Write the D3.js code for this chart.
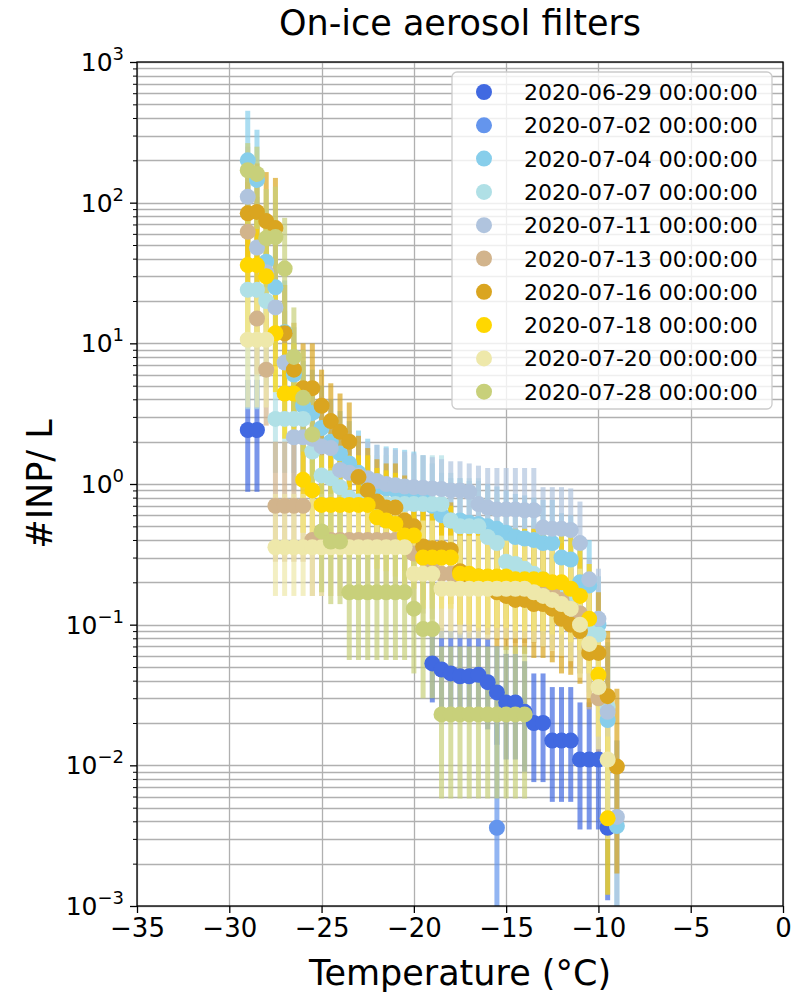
<!DOCTYPE html>
<html>
<head>
<meta charset="utf-8">
<script src="https://cdn.jsdelivr.net/npm/d3@7"></script>
<style>
  body { margin: 0; background: #fff; }
  text { font-family: "DejaVu Sans", sans-serif; }
</style>
</head>
<body>
<div class="chart"></div>
<script>
"use strict";

// legend labels and colours
const dates = [
  "2020-06-29 00:00:00", "2020-07-02 00:00:00", "2020-07-04 00:00:00",
  "2020-07-07 00:00:00", "2020-07-11 00:00:00", "2020-07-13 00:00:00",
  "2020-07-16 00:00:00", "2020-07-18 00:00:00", "2020-07-20 00:00:00",
  "2020-07-28 00:00:00"
];
const colors = [
  "#4169e1", "#6495ed", "#87ceeb", "#b0e0e6", "#b0c4de",
  "#d2b48c", "#daa520", "#ffd700", "#eee8aa", "#c8d07a"
];

// [temperature, INP per L, lower, upper]
const s0629 = [
  [-29, 2.42, 0.88, 5.5], [-28.5, 2.42, 0.88, 5.5],
  [-19, 0.053, 0.028, 0.1], [-18.5, 0.048, 0.024, 0.095], [-18, 0.045, 0.022, 0.09],
  [-17.5, 0.043, 0.021, 0.088], [-17, 0.043, 0.021, 0.088], [-16.5, 0.044, 0.021, 0.09],
  [-16, 0.039, 0.018, 0.08], [-15.5, 0.033, 0.014, 0.07], [-15, 0.028, 0.011, 0.062],
  [-14.5, 0.028, 0.011, 0.062], [-14, 0.024, 0.009, 0.055], [-13.5, 0.02, 0.0076, 0.045],
  [-13, 0.02, 0.0076, 0.045], [-12.5, 0.015, 0.0055, 0.036], [-12, 0.015, 0.0055, 0.036],
  [-11.5, 0.015, 0.0055, 0.036], [-11, 0.011, 0.0035, 0.028], [-10.5, 0.011, 0.0035, 0.028],
  [-10, 0.011, 0.0035, 0.028], [-9.5, 0.0036, 0.0011, 0.012]
];
const s0702 = [
  [-15.5, 0.0036, 0.0008, 0.02]
];
const s0704 = [
  [-29, 200, 80, 450], [-28.5, 145, 55, 330], [-28, 38, 14, 90], [-27.5, 25, 9, 60],
  [-27, 12, 5, 28], [-26.5, 6, 2.5, 13], [-26, 3.6, 1.6, 7.5], [-25.5, 3.2, 1.4, 6.5],
  [-25, 2.5, 1.1, 5], [-24.5, 2.0, 0.9, 4], [-24, 1.65, 0.75, 3.3], [-23.5, 1.4, 0.65, 2.8],
  [-23, 1.2, 0.55, 2.4], [-22.5, 1.05, 0.5, 2.1], [-22, 0.95, 0.45, 1.9], [-21.5, 0.93, 0.44, 1.85],
  [-21, 0.9, 0.43, 1.8], [-20.5, 0.88, 0.42, 1.75], [-20, 0.85, 0.4, 1.7], [-19.5, 0.8, 0.38, 1.6],
  [-19, 0.7, 0.33, 1.4], [-18.5, 0.6, 0.28, 1.2], [-18, 0.55, 0.26, 1.1], [-17.5, 0.55, 0.26, 1.1],
  [-17, 0.53, 0.25, 1.05], [-16.5, 0.52, 0.24, 1.05], [-16, 0.5, 0.23, 1.0], [-15.5, 0.48, 0.22, 0.96],
  [-15, 0.45, 0.21, 0.9], [-14.5, 0.42, 0.19, 0.85], [-14, 0.41, 0.19, 0.83], [-13.5, 0.4, 0.18, 0.8],
  [-13, 0.38, 0.17, 0.77], [-12.5, 0.38, 0.17, 0.77], [-12, 0.3, 0.13, 0.62], [-11.5, 0.29, 0.13, 0.6],
  [-11, 0.2, 0.08, 0.42], [-10.5, 0.19, 0.08, 0.4], [-10, 0.1, 0.04, 0.22], [-9.5, 0.021, 0.006, 0.06],
  [-9, 0.0037, 0.0007, 0.015]
];
const s0707 = [
  [-29, 24, 3.4, 55], [-28.5, 24, 3.4, 55], [-28, 20, 5, 45], [-27.5, 2.9, 1.2, 6.5],
  [-27, 2.9, 1.2, 6.5], [-26.5, 2.9, 1.2, 6.5], [-26, 2.9, 1.2, 6.5], [-25.5, 1.7, 0.7, 3.8],
  [-25, 1.15, 0.48, 2.6], [-24.5, 1.1, 0.46, 2.5], [-24, 0.95, 0.4, 2.1], [-23.5, 0.8, 0.34, 1.8],
  [-23, 0.75, 0.32, 1.7], [-22.5, 0.72, 0.3, 1.6], [-22, 0.72, 0.3, 1.6], [-21.5, 0.72, 0.3, 1.6],
  [-21, 0.72, 0.3, 1.6], [-20.5, 0.72, 0.3, 1.6], [-20, 0.72, 0.3, 1.6], [-19.5, 0.72, 0.3, 1.6],
  [-19, 0.72, 0.3, 1.6], [-18.5, 0.72, 0.3, 1.6], [-18, 0.55, 0.23, 1.2], [-17.5, 0.5, 0.21, 1.1],
  [-17, 0.5, 0.21, 1.1], [-16.5, 0.5, 0.21, 1.1], [-16, 0.42, 0.17, 0.95], [-15.5, 0.38, 0.15, 0.85],
  [-15, 0.28, 0.11, 0.65], [-14.5, 0.27, 0.11, 0.62], [-14, 0.25, 0.1, 0.58], [-13.5, 0.23, 0.09, 0.54],
  [-13, 0.21, 0.085, 0.5], [-12.5, 0.19, 0.075, 0.45], [-12, 0.16, 0.065, 0.38], [-11.5, 0.15, 0.06, 0.36],
  [-11, 0.12, 0.045, 0.3], [-10.5, 0.09, 0.033, 0.23], [-10, 0.085, 0.03, 0.22], [-9.5, 0.026, 0.008, 0.075]
];
const s0711 = [
  [-29, 110, 45, 250], [-28.5, 48, 20, 110], [-28, 32, 13, 75], [-27.5, 18, 7, 42],
  [-27, 7.3, 3, 17], [-26.5, 2.15, 0.9, 5], [-26, 2.15, 0.9, 5], [-25.5, 2.1, 0.9, 4.8],
  [-25, 1.85, 0.8, 4.2], [-24.5, 1.8, 0.8, 4.0], [-24, 1.26, 0.6, 2.6], [-23.5, 1.2, 0.57, 2.4],
  [-23, 1.15, 0.55, 2.2], [-22.5, 1.1, 0.52, 2.0], [-22, 1.05, 0.5, 1.9], [-21.5, 1.0, 0.48, 1.8],
  [-21, 0.98, 0.47, 1.75], [-20.5, 0.96, 0.46, 1.7], [-20, 0.95, 0.45, 1.65], [-19.5, 0.94, 0.45, 1.6],
  [-19, 0.93, 0.44, 1.55], [-18.5, 0.92, 0.44, 1.5], [-18, 0.9, 0.43, 1.45], [-17.5, 0.9, 0.43, 1.45],
  [-17, 0.88, 0.42, 1.4], [-16.5, 0.72, 0.34, 1.35], [-16, 0.68, 0.32, 1.3], [-15.5, 0.66, 0.31, 1.3],
  [-15, 0.66, 0.31, 1.3], [-14.5, 0.66, 0.31, 1.3], [-14, 0.65, 0.3, 1.3], [-13.5, 0.65, 0.3, 1.3],
  [-13, 0.49, 0.22, 0.95], [-12.5, 0.48, 0.22, 0.95], [-12, 0.48, 0.22, 0.95], [-11.5, 0.47, 0.21, 0.93],
  [-11, 0.38, 0.16, 0.75], [-10.5, 0.21, 0.09, 0.29], [-10, 0.11, 0.04, 0.25], [-9.5, 0.024, 0.007, 0.07],
  [-9, 0.0043, 0.001, 0.015]
];
const s0713 = [
  [-29, 62, 25, 140], [-28.5, 15, 6, 34], [-28, 6.5, 2.6, 15], [-27.5, 0.7, 0.28, 2.0],
  [-27, 0.7, 0.28, 2.0], [-26.5, 0.7, 0.28, 2.0], [-26, 0.7, 0.28, 2.0], [-25.5, 0.4, 0.16, 1.0],
  [-25, 0.4, 0.16, 1.0], [-24.5, 0.4, 0.16, 1.0], [-24, 0.4, 0.16, 1.0], [-23.5, 0.4, 0.16, 1.0],
  [-23, 0.4, 0.16, 1.0], [-22.5, 0.4, 0.16, 1.0], [-22, 0.4, 0.16, 1.0], [-21.5, 0.4, 0.16, 1.0],
  [-21, 0.4, 0.16, 1.0], [-20.5, 0.38, 0.15, 0.95], [-20, 0.32, 0.13, 0.8], [-19.5, 0.3, 0.12, 0.75],
  [-19, 0.28, 0.11, 0.7], [-18.5, 0.23, 0.09, 0.58], [-18, 0.23, 0.09, 0.58], [-17.5, 0.22, 0.085, 0.55],
  [-17, 0.21, 0.08, 0.52], [-16.5, 0.21, 0.08, 0.52], [-16, 0.2, 0.078, 0.5], [-15.5, 0.2, 0.078, 0.5],
  [-15, 0.2, 0.078, 0.5], [-14.5, 0.19, 0.074, 0.48], [-14, 0.19, 0.074, 0.48], [-13.5, 0.19, 0.074, 0.48],
  [-13, 0.18, 0.07, 0.45], [-12.5, 0.17, 0.066, 0.43], [-12, 0.15, 0.058, 0.38], [-11.5, 0.13, 0.05, 0.33],
  [-11, 0.12, 0.045, 0.3], [-10.5, 0.07, 0.025, 0.18], [-10, 0.03, 0.01, 0.08]
];
const s0716 = [
  [-29, 84, 35, 190], [-28.5, 86, 35, 190], [-28, 74, 30, 165], [-27.5, 66, 27, 150],
  [-27, 11.8, 5, 26], [-26.5, 6.5, 2.8, 14], [-26, 4.8, 2.1, 10], [-25.5, 4.8, 2.1, 10],
  [-25, 3.6, 1.6, 6.5], [-24.5, 2.8, 1.3, 5.2], [-24, 2.35, 1.1, 4.4], [-23.5, 2.0, 0.95, 3.8],
  [-23, 1.12, 0.5, 2.2], [-22.5, 0.9, 0.4, 1.8], [-22, 0.75, 0.33, 1.5], [-21.5, 0.68, 0.3, 1.4],
  [-21, 0.68, 0.3, 1.4], [-20.5, 0.55, 0.24, 1.15], [-20, 0.5, 0.22, 1.05], [-19.5, 0.36, 0.15, 0.78],
  [-19, 0.35, 0.15, 0.76], [-18.5, 0.35, 0.15, 0.76], [-18, 0.34, 0.14, 0.74], [-17.5, 0.24, 0.1, 0.54],
  [-17, 0.22, 0.09, 0.5], [-16.5, 0.22, 0.09, 0.5], [-16, 0.2, 0.085, 0.46], [-15.5, 0.17, 0.07, 0.4],
  [-15, 0.16, 0.066, 0.38], [-14.5, 0.15, 0.062, 0.36], [-14, 0.15, 0.062, 0.36], [-13.5, 0.14, 0.058, 0.34],
  [-13, 0.14, 0.058, 0.34], [-12.5, 0.13, 0.054, 0.32], [-12, 0.11, 0.045, 0.27], [-11.5, 0.1, 0.044, 0.25],
  [-11, 0.09, 0.038, 0.23], [-10.5, 0.063, 0.026, 0.17], [-10, 0.063, 0.026, 0.17], [-9.5, 0.031, 0.011, 0.09],
  [-9, 0.0098, 0.0017, 0.035]
];
const s0718 = [
  [-29, 36, 12, 80], [-28.5, 36, 12, 80], [-28, 30, 10, 68], [-27.5, 11.8, 4.5, 27],
  [-27, 4.4, 2.1, 10], [-26.5, 4.4, 2.1, 10], [-26, 1.07, 0.45, 2.4], [-25.5, 0.9, 0.38, 2.0],
  [-25, 0.71, 0.3, 1.6], [-24.5, 0.71, 0.3, 1.6], [-24, 0.71, 0.3, 1.6], [-23.5, 0.71, 0.3, 1.6],
  [-23, 0.71, 0.3, 1.6], [-22.5, 0.71, 0.3, 1.6], [-22, 0.58, 0.25, 1.3], [-21.5, 0.55, 0.24, 1.25],
  [-21, 0.52, 0.22, 1.2], [-20.5, 0.43, 0.18, 1.0], [-20, 0.43, 0.18, 1.0], [-19.5, 0.3, 0.13, 0.7],
  [-19, 0.3, 0.13, 0.7], [-18.5, 0.3, 0.13, 0.7], [-18, 0.3, 0.13, 0.7], [-17.5, 0.23, 0.1, 0.52],
  [-17, 0.23, 0.1, 0.52], [-16.5, 0.22, 0.095, 0.5], [-16, 0.22, 0.095, 0.5], [-15.5, 0.22, 0.095, 0.5],
  [-15, 0.22, 0.095, 0.5], [-14.5, 0.21, 0.09, 0.48], [-14, 0.21, 0.09, 0.48], [-13.5, 0.21, 0.09, 0.48],
  [-13, 0.21, 0.09, 0.48], [-12.5, 0.2, 0.085, 0.46], [-12, 0.2, 0.085, 0.46], [-11.5, 0.18, 0.075, 0.42],
  [-11, 0.16, 0.066, 0.38], [-10.5, 0.11, 0.045, 0.27], [-10, 0.044, 0.016, 0.12], [-9.5, 0.0042, 0.0012, 0.016]
];
const s0720 = [
  [-29, 10.6, 3.5, 25], [-28.5, 10.6, 3.5, 25], [-28, 10.6, 3.5, 25], [-27.5, 0.355, 0.16, 0.85],
  [-27, 0.355, 0.16, 0.85], [-26.5, 0.355, 0.16, 0.85], [-26, 0.355, 0.16, 0.85], [-25.5, 0.355, 0.16, 0.85],
  [-25, 0.355, 0.16, 0.85], [-24.5, 0.355, 0.16, 0.85], [-24, 0.355, 0.16, 0.85], [-23.5, 0.355, 0.16, 0.85],
  [-23, 0.355, 0.16, 0.85], [-22.5, 0.355, 0.16, 0.85], [-22, 0.355, 0.16, 0.85], [-21.5, 0.355, 0.16, 0.85],
  [-21, 0.355, 0.16, 0.85], [-20.5, 0.355, 0.16, 0.85], [-20, 0.23, 0.1, 0.55], [-19.5, 0.23, 0.1, 0.55],
  [-19, 0.23, 0.1, 0.55], [-18.5, 0.18, 0.08, 0.43], [-18, 0.18, 0.08, 0.43], [-17.5, 0.18, 0.08, 0.43],
  [-17, 0.18, 0.08, 0.43], [-16.5, 0.18, 0.08, 0.43], [-16, 0.18, 0.08, 0.43], [-15.5, 0.18, 0.08, 0.43],
  [-15, 0.18, 0.08, 0.43], [-14.5, 0.18, 0.08, 0.43], [-14, 0.18, 0.08, 0.43], [-13.5, 0.17, 0.075, 0.41],
  [-13, 0.16, 0.07, 0.39], [-12.5, 0.15, 0.065, 0.37], [-12, 0.14, 0.06, 0.34], [-11.5, 0.13, 0.055, 0.32],
  [-11, 0.1, 0.042, 0.25], [-10.5, 0.073, 0.03, 0.19], [-10, 0.036, 0.013, 0.1], [-9.5, 0.011, 0.003, 0.035]
];
const s0728 = [
  [-29, 170, 70, 265], [-28.5, 160, 65, 250], [-28, 56, 22, 125], [-27.5, 57, 22, 130],
  [-27, 34, 13, 78], [-26.5, 8, 3.2, 18], [-26, 4.1, 1.7, 9], [-25.5, 2.25, 0.95, 5],
  [-25, 0.46, 0.17, 1.2], [-24.5, 0.39, 0.14, 1.0], [-24, 0.39, 0.14, 1.0], [-23.5, 0.17, 0.056, 0.45],
  [-23, 0.17, 0.056, 0.45], [-22.5, 0.17, 0.056, 0.45], [-22, 0.17, 0.056, 0.45], [-21.5, 0.17, 0.056, 0.45],
  [-21, 0.17, 0.056, 0.45], [-20.5, 0.17, 0.056, 0.45], [-20, 0.13, 0.045, 0.35], [-19.5, 0.093, 0.03, 0.25],
  [-19, 0.093, 0.03, 0.25], [-18.5, 0.023, 0.0058, 0.07], [-18, 0.023, 0.0058, 0.07], [-17.5, 0.023, 0.0058, 0.07],
  [-17, 0.023, 0.0058, 0.07], [-16.5, 0.023, 0.0058, 0.07], [-16, 0.023, 0.0058, 0.07], [-15.5, 0.023, 0.0058, 0.07],
  [-15, 0.023, 0.0058, 0.07], [-14.5, 0.023, 0.0058, 0.07], [-14, 0.023, 0.0058, 0.07]
];

const series = [s0629, s0702, s0704, s0707, s0711, s0713, s0716, s0718, s0720, s0728];

const xTicks = [-35, -30, -25, -20, -15, -10, -5, 0];
const yExps = [-3, -2, -1, 0, 1, 2, 3];

const W = 795, H = 995;
const margin = { top: 62, right: 12, bottom: 89, left: 137 };
const plotW = W - margin.left - margin.right;
const plotH = H - margin.top - margin.bottom;

const svg = d3.select(".chart").append("svg")
  .attr("width", W).attr("height", H);

const x = d3.scaleLinear().domain([-35, 0]).range([margin.left, margin.left + plotW]);
const y = d3.scaleLog().domain([1e-3, 1e3]).range([margin.top + plotH, margin.top]);

svg.append("clipPath").attr("id", "plot-clip")
  .append("rect")
  .attr("x", margin.left).attr("y", margin.top)
  .attr("width", plotW).attr("height", plotH);

// grid: major + minor on y, major on x
const grid = svg.append("g").attr("stroke", "#b0b0b0").attr("stroke-width", 1.3);
grid.selectAll("line.gy")
  .data(y.ticks())
  .join("line")
  .attr("class", "gy")
  .attr("x1", margin.left).attr("x2", margin.left + plotW)
  .attr("y1", (d) => Math.round(y(d)) + 0.5).attr("y2", (d) => Math.round(y(d)) + 0.5);
grid.selectAll("line.gx")
  .data(xTicks)
  .join("line")
  .attr("class", "gx")
  .attr("y1", margin.top).attr("y2", margin.top + plotH)
  .attr("x1", (d) => Math.round(x(d)) + 0.5).attr("x2", (d) => Math.round(x(d)) + 0.5);

// error bars first, then markers on top
const plot = svg.append("g").attr("clip-path", "url(#plot-clip)");

series.forEach((s, i) => {
  plot.append("g")
    .attr("stroke", colors[i])
    .attr("stroke-width", 5)
    .attr("stroke-opacity", 0.7)
    .selectAll("line")
    .data(s)
    .join("line")
    .attr("x1", (d) => x(d[0])).attr("x2", (d) => x(d[0]))
    .attr("y1", (d) => y(Math.max(d[2], 1e-4))).attr("y2", (d) => y(d[3]));
});

series.forEach((s, i) => {
  plot.append("g")
    .attr("fill", colors[i])
    .selectAll("circle")
    .data(s)
    .join("circle")
    .attr("cx", (d) => x(d[0]))
    .attr("cy", (d) => y(d[1]))
    .attr("r", 8);
});

// axes
const xAxis = d3.axisBottom(x)
  .tickValues(xTicks)
  .tickSize(7)
  .tickPadding(6)
  .tickFormat((d) => (d < 0 ? "\u2212" + Math.abs(d) : String(d)));

const xg = svg.append("g")
  .attr("transform", `translate(0,${margin.top + plotH})`)
  .call(xAxis);
xg.select(".domain").remove();
xg.selectAll(".tick line").attr("stroke-width", 1.3);
xg.selectAll("text").attr("font-size", 26).attr("fill", "#000")
  .attr("font-family", "DejaVu Sans, sans-serif");

const yMinor = d3.axisLeft(y)
  .tickValues(y.ticks().filter((d) => Math.abs(Math.log10(d) - Math.round(Math.log10(d))) > 1e-6))
  .tickSize(4)
  .tickFormat("");
const ymg = svg.append("g").attr("transform", `translate(${margin.left},0)`).call(yMinor);
ymg.select(".domain").remove();
ymg.selectAll(".tick line").attr("stroke-width", 1);

const yAxis = d3.axisLeft(y)
  .tickValues(yExps.map((e) => Math.pow(10, e)))
  .tickSize(7)
  .tickFormat("");
const yg = svg.append("g").attr("transform", `translate(${margin.left},0)`).call(yAxis);
yg.select(".domain").remove();
yg.selectAll(".tick line").attr("stroke-width", 1.3);

// y tick labels as 10 with superscript exponent
const ylab = svg.append("g").attr("font-size", 25).attr("text-anchor", "end");
yExps.forEach((e) => {
  const t = ylab.append("text")
    .attr("x", margin.left - 13)
    .attr("y", y(Math.pow(10, e)) + 9);
  t.append("tspan").text("10");
  t.append("tspan")
    .attr("font-size", 18)
    .attr("dy", -11)
    .text(e < 0 ? "\u2212" + Math.abs(e) : String(e));
});

// frame
svg.append("rect")
  .attr("x", margin.left).attr("y", margin.top)
  .attr("width", plotW).attr("height", plotH)
  .attr("fill", "none").attr("stroke", "#000").attr("stroke-width", 1.3);

// title and axis labels
svg.append("text")
  .attr("x", margin.left + plotW / 2).attr("y", 35)
  .attr("text-anchor", "middle").attr("font-size", 35)
  .text("On-ice aerosol filters");

svg.append("text")
  .attr("x", margin.left + plotW / 2).attr("y", 985)
  .attr("text-anchor", "middle").attr("font-size", 35)
  .text("Temperature (\u00b0C)");

svg.append("text")
  .attr("transform", `translate(52,${margin.top + plotH / 2}) rotate(-90)`)
  .attr("text-anchor", "middle").attr("font-size", 35)
  .text("#INP/ L");

// legend
const lg = svg.append("g").attr("transform", "translate(452,72)");
lg.append("rect")
  .attr("width", 320).attr("height", 337)
  .attr("rx", 5)
  .attr("fill", "#fff").attr("fill-opacity", 0.8)
  .attr("stroke", "#cccccc").attr("stroke-width", 1.3);

const rows = lg.selectAll("g.row")
  .data(dates)
  .join("g")
  .attr("class", "row")
  .attr("transform", (d, i) => `translate(0,${20 + i * 33.3})`);
rows.append("circle")
  .attr("cx", 32).attr("cy", 0).attr("r", 8)
  .attr("fill", (d, i) => colors[i]);
rows.append("text")
  .attr("x", 72).attr("y", 8)
  .attr("font-size", 22)
  .text((d) => d);
</script>
</body>
</html>
